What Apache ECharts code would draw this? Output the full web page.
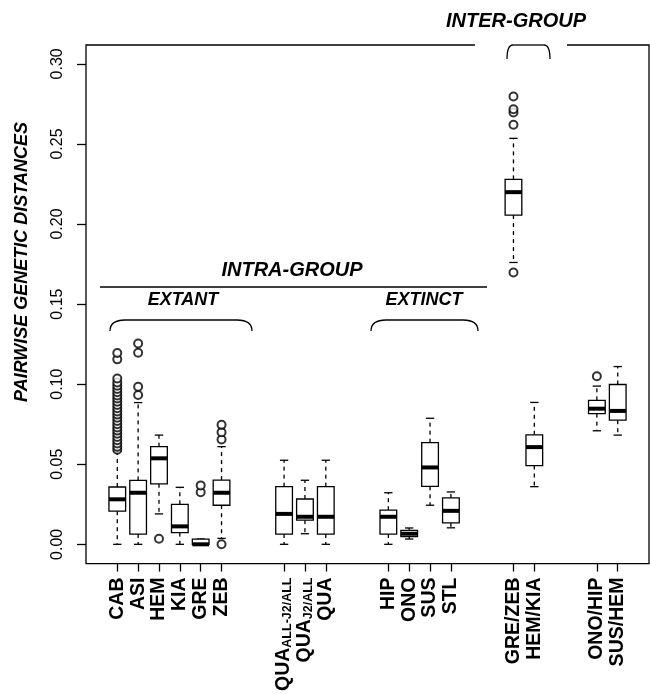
<!DOCTYPE html>
<html><head><meta charset="utf-8">
<script src="https://cdn.jsdelivr.net/npm/echarts@6/dist/echarts.min.js"></script>
<style>html,body{margin:0;padding:0;background:#fff}#c{width:650px;height:694px}</style>
</head><body><div id="c"></div>
<script>
// ---- data ----
const names = ['CAB','ASI','HEM','KIA','GRE','ZEB','QUA_ALL-J2/ALL','QUA_J2/ALL','QUA','HIP','ONO','SUS','STL','GRE/ZEB','HEM/KIA','ONO/HIP','SUS/HEM'];
const positions = [1,2,3,4,5,6,9,10,11,14,15,16,17,20,21,24,25];
const lowerWhisker = [0.000,0.000,0.019,0.000,0.000,0.0037,0.000,0.0066,0.000,0.000,0.0033,0.0244,0.0103,0.176,0.036,0.0709,0.0682];
const q1 =           [0.0207,0.0064,0.0378,0.0073,0.000,0.0244,0.0064,0.0151,0.0064,0.0064,0.0048,0.0362,0.0134,0.2056,0.0492,0.0816,0.0775];
const median =       [0.0281,0.0322,0.0537,0.0112,0.000,0.0322,0.019,0.0172,0.0172,0.0172,0.0066,0.048,0.0209,0.2199,0.0607,0.0847,0.0833];
const q3 =           [0.0358,0.0399,0.061,0.025,0.0033,0.0401,0.036,0.0283,0.036,0.0213,0.0087,0.0635,0.029,0.2279,0.0684,0.0899,0.0998];
const upperWhisker = [0.058,0.0885,0.0682,0.0356,0.0033,0.061,0.0525,0.040,0.0525,0.0322,0.0102,0.0787,0.0327,0.2535,0.0886,0.0988,0.111];

const outCAB = [0.059,0.061,0.063,0.065,0.067,0.069,0.071,0.073,0.075,0.077,0.079,0.081,0.083,0.085,0.087,0.089,0.091,0.093,0.095,0.097,0.099,0.101,0.1035,0.1155,0.1195];
const outASI = [0.0932,0.0984,0.1196,0.1254];
const outHEM = [0.0035];
const outGRE = [0.0325,0.0368];
const outZEB = [0.0655,0.070,0.0746,0.0];
const outGREZEB = [0.262,0.2696,0.2717,0.2796,0.1697];
const outONOHIP = [0.105];

const yTicks = [0,0.05,0.10,0.15,0.20,0.25,0.30];

// ---- build ----
const outlierGroups = [['CAB',outCAB],['ASI',outASI],['HEM',outHEM],['GRE',outGRE],['ZEB',outZEB],['GRE/ZEB',outGREZEB],['ONO/HIP',outONOHIP]];
const outlierData = [];
outlierGroups.forEach(([n, arr]) => {
  const p = positions[names.indexOf(n)];
  arr.forEach(v => outlierData.push([p, v]));
});
const boxData = positions.map((p, i) => [p, lowerWhisker[i], q1[i], median[i], q3[i], upperWhisker[i]]);

function labelFor(v) {
  const i = positions.indexOf(v);
  if (i < 0) return '';
  const n = names[i];
  if (n.indexOf('_') > 0) {
    const [a, b] = n.split('_');
    return '{m|' + a + '}{s|' + b + '}';
  }
  return '{n|' + n + '}';
}

const FONT = '"Liberation Sans", Arial, sans-serif';
const LS = {stroke: '#000', lineWidth: 1.3, fill: null};
function bracket(xL, xR, yTop, yEnd, r) {
  return [
    {type: 'bezierCurve', z: 101, shape: {x1: xL, y1: yEnd, x2: xL + r, y2: yTop, cpx1: xL, cpy1: yTop}, style: LS},
    {type: 'line', z: 101, shape: {x1: xL + r, y1: yTop, x2: xR - r, y2: yTop}, style: LS},
    {type: 'bezierCurve', z: 101, shape: {x1: xR - r, y1: yTop, x2: xR, y2: yEnd, cpx1: xR, cpy1: yTop}, style: LS}
  ];
}
function label(text, x, y, size, rot) {
  return {type: 'text', z: 101, x: x, y: y, rotation: rot || 0,
    style: {text: text, font: 'italic bold ' + size + 'px ' + FONT, fill: '#000',
      align: 'center', verticalAlign: 'middle', textAlign: 'center', textVerticalAlign: 'middle'}};
}

const chart = echarts.init(document.getElementById('c'), null, {renderer: 'canvas'});
const option = {
  animation: false,
  backgroundColor: '#fff',
  grid: {left: 86, right: 1, top: 45, bottom: 127, show: true, borderColor: '#000', borderWidth: 1.3, backgroundColor: 'transparent'},
  xAxis: {
    type: 'value', min: -0.5, max: 26.5,
    splitLine: {show: false}, axisLine: {show: false, onZero: false},
    axisTick: {show: true, length: 8, customValues: positions, lineStyle: {color: '#000', width: 1.3}},
    axisLabel: {
      show: true, rotate: 90, margin: 14, customValues: positions,
      formatter: labelFor, color: '#000',
      rich: {
        n: {fontSize: 19.5, fontWeight: 'bold', fontFamily: FONT, color: '#000', lineHeight: 20},
        m: {fontSize: 19.5, fontWeight: 'bold', fontFamily: FONT, color: '#000', lineHeight: 20, verticalAlign: 'top'},
        s: {fontSize: 12.5, fontWeight: 'bold', fontFamily: FONT, color: '#000', lineHeight: 13, padding: [15, 0, 0, 0], verticalAlign: 'bottom'}
      }
    }
  },
  yAxis: {
    type: 'value', min: -0.012, max: 0.3118,
    splitLine: {show: false}, axisLine: {show: false, onZero: false},
    axisTick: {show: true, length: 9, customValues: yTicks, lineStyle: {color: '#000', width: 1.3}},
    axisLabel: {show: true, rotate: 90, margin: 20, customValues: yTicks, formatter: v => v.toFixed(2),
      fontSize: 16, fontFamily: FONT, color: '#000'}
  },
  series: [
    {
      type: 'custom', data: boxData, encode: {x: 0, y: [1,2,3,4,5]}, z: 3,
      renderItem(params, api) {
        const x = api.value(0);
        const px = api.coord([x, 0])[0];
        const yl = api.coord([x, api.value(1)])[1];
        const ya = api.coord([x, api.value(2)])[1];
        const ym = api.coord([x, api.value(3)])[1];
        const yb = api.coord([x, api.value(4)])[1];
        const yu = api.coord([x, api.value(5)])[1];
        const half = api.size([0.8, 0])[0] / 2;
        const st = half / 2;
        const solid = {stroke: '#000', lineWidth: 1.3};
        const dash = {stroke: '#000', lineWidth: 1.3, lineDash: [4, 4]};
        return {type: 'group', children: [
          {type: 'line', shape: {x1: px, y1: yb, x2: px, y2: yu}, style: dash},
          {type: 'line', shape: {x1: px, y1: ya, x2: px, y2: yl}, style: dash},
          {type: 'line', shape: {x1: px - st, y1: yu, x2: px + st, y2: yu}, style: solid},
          {type: 'line', shape: {x1: px - st, y1: yl, x2: px + st, y2: yl}, style: solid},
          {type: 'rect', shape: {x: px - half, y: yb, width: 2 * half, height: ya - yb}, style: {fill: '#fff', stroke: '#000', lineWidth: 1.3}},
          {type: 'line', shape: {x1: px - half, y1: ym, x2: px + half, y2: ym}, style: {stroke: '#000', lineWidth: 4}}
        ]};
      }
    },
    {
      type: 'scatter', data: outlierData, symbol: 'emptyCircle', symbolSize: 8, z: 4,
      itemStyle: {color: '#000', borderColor: '#000', borderWidth: 1.2}
    }
  ],
  graphic: [
    {type: 'rect', z: 100, shape: {x: 475, y: 40, width: 92, height: 8}, style: {fill: '#fff'}},
    ...bracket(507, 550, 45, 59, 6),
    label('INTER-GROUP', 516, 21, 20),
    {type: 'line', z: 101, shape: {x1: 100, y1: 287, x2: 487, y2: 287}, style: LS},
    label('INTRA-GROUP', 292, 270, 20),
    label('EXTANT', 183, 300, 18),
    ...bracket(110, 252, 320, 331, 15),
    label('EXTINCT', 424, 300, 18),
    ...bracket(371, 478, 320, 331, 15),
    label('PAIRWISE GENETIC DISTANCES', 22, 262, 18, Math.PI / 2)
  ]
};
chart.setOption(option);
</script></body></html>
